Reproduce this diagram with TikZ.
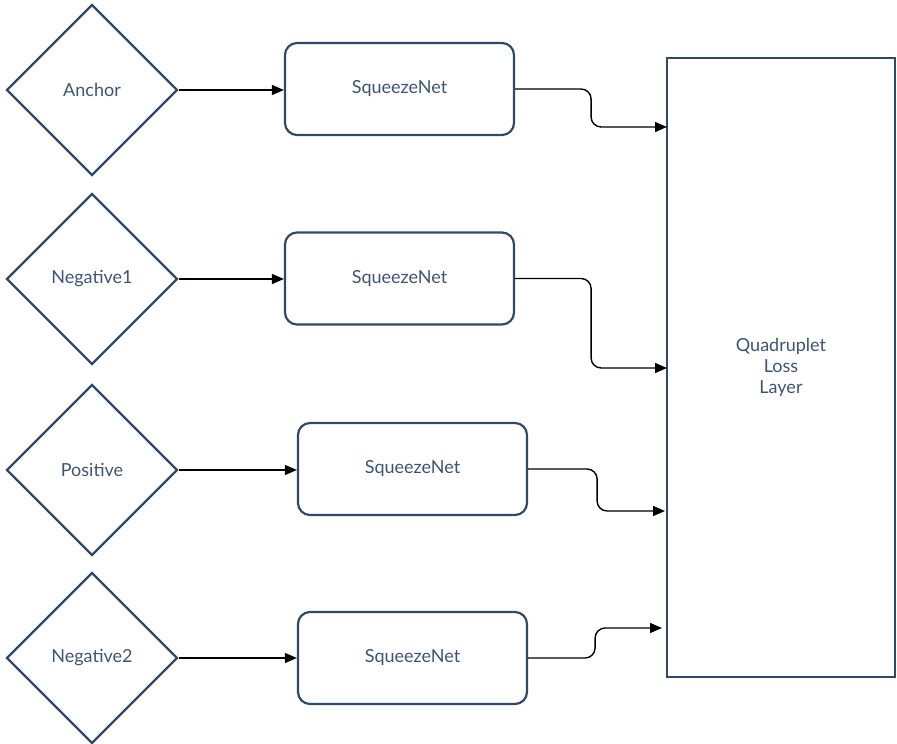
\documentclass[tikz,border=0pt]{standalone}
\usepackage{fontspec}
\setmainfont{Lato}
\usepackage{xcolor}
\usepackage{tikz}
\usetikzlibrary{shapes.geometric, arrows.meta}

\definecolor{frame}{HTML}{2F4A66}
\definecolor{ink}{HTML}{3D5573}

\begin{document}
\begin{tikzpicture}[x=1pt, y=-1pt]
  \tikzstyle{input} = [diamond, draw=frame, line width=2.2pt, inner sep=0pt, minimum width=171pt, minimum height=171pt, text=ink, font=\fontsize{18}{21}\selectfont]
  \tikzstyle{net} = [rectangle, rounded corners=12pt, draw=frame, line width=2.2pt, minimum width=229pt, minimum height=92pt, text=ink, font=\fontsize{18}{21}\selectfont]
  \tikzstyle{loss} = [rectangle, draw=frame, line width=2.2pt, minimum width=228pt, minimum height=619pt, text=ink, align=center, font=\fontsize{18}{21}\selectfont]
  \tikzstyle{edge} = [-{Triangle[length=12pt, width=10pt]}, line width=1.4pt, black, rounded corners=10pt]

  \useasboundingbox (0,0) rectangle (897,744);

  \node[input] (anchor) at (92,90) {Anchor};
  \node[input] (neg1) at (92,279) {Negative1};
  \node[input] (pos) at (92,470) {Positive};
  \node[input] (neg2) at (92,658) {Negative2};

  \node[net] (sq1) at (399.5,89) {SqueezeNet};
  \node[net] (sq2) at (399.5,278.5) {SqueezeNet};
  \node[net] (sq3) at (412.5,469) {SqueezeNet};
  \node[net] (sq4) at (412.5,658) {SqueezeNet};

  \node[loss] (layer) at (781,367.5) {Quadruplet\\Loss\\Layer};

  \coordinate (in1) at (667,127);
  \coordinate (in2) at (667,368);
  \coordinate (in3) at (665,511);
  \coordinate (in4) at (662,628);

  \draw[edge] (anchor.east) -- (sq1.west |- anchor.east);
  \draw[edge] (neg1.east) -- (sq2.west |- neg1.east);
  \draw[edge] (pos.east) -- (sq3.west |- pos.east);
  \draw[edge] (neg2.east) -- (sq4.west |- neg2.east);

  \draw[edge] (sq1.east) -- ++(76,0) |- (in1);
  \draw[edge] (sq2.east) -- ++(76,0) |- (in2);
  \draw[edge] (sq3.east) -- ++(69,0) |- (in3);
  \draw[edge] (sq4.east) -- ++(67,0) |- (in4);
\end{tikzpicture}
\end{document}
